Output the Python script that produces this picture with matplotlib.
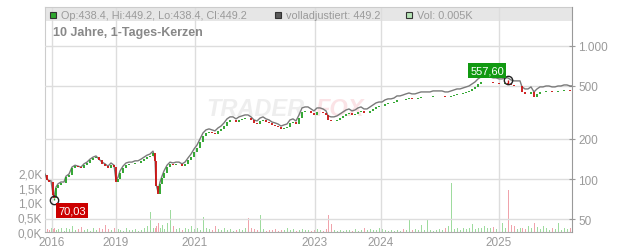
import matplotlib
matplotlib.use("Agg")
import matplotlib.pyplot as plt
from matplotlib.patches import Rectangle
from matplotlib.ticker import NullLocator
import numpy as np

plt.rcParams["font.family"] = ["Liberation Sans", "DejaVu Sans"]

# trading-session index (x)
session = [
    0, 10, 20, 30, 40, 45, 55, 65, 80, 95,
    105, 120, 135, 150, 165, 180, 195, 210, 225, 240,
    255, 270, 285, 300, 315, 330, 345, 355, 365, 375,
    390, 405, 420, 435, 450, 465, 480, 495, 510, 525,
    540, 550, 555, 565, 575, 585, 595, 610, 625, 640,
    655, 670, 685, 700, 715, 730, 745, 760, 775, 790,
    805, 820, 835, 850, 865, 880, 895, 910, 925, 940,
    955, 970, 985, 1000, 1015, 1030, 1045, 1060, 1075, 1090,
    1105, 1120, 1135, 1150, 1165, 1180, 1195, 1210, 1225, 1240,
    1255, 1270, 1285, 1300, 1315, 1330, 1345, 1360, 1375, 1390,
    1405, 1415, 1430, 1445, 1460, 1475, 1490, 1505, 1520, 1535,
    1550, 1565, 1580, 1595, 1610, 1625, 1640, 1655, 1670, 1685,
    1700, 1715, 1730, 1745, 1760, 1775, 1790, 1805, 1820, 1835,
    1850, 1865, 1880, 1895, 1910, 1925, 1940, 1955, 1970, 1985,
    2000, 2015, 2030, 2045, 2060, 2075, 2090, 2105, 2120, 2135,
    2150, 2165, 2180, 2195, 2210, 2225, 2240, 2255, 2270, 2285,
    2300, 2315, 2330, 2345, 2360, 2375, 2385, 2400, 2415, 2430,
    2445, 2460, 2475, 2490, 2505, 2520, 2535, 2550, 2565, 2580,
    2595, 2610, 2625, 2635,
]

# "volladjustiert" line
adjusted = [
    109, 100, 97, 97, 77, 73, 87, 92, 95, 95,
    105, 109, 123, 127, 125, 123, 130, 134, 141, 146,
    149, 141, 134, 130, 125, 132, 127, 98, 103, 115,
    125, 132, 134, 134, 137, 137, 141, 146, 151, 154,
    162, 141, 92, 80, 95, 105, 115, 127, 134, 132,
    134, 134, 130, 134, 144, 154, 168, 180, 200, 222,
    234, 238, 234, 230, 242, 250, 264, 283, 293, 293,
    283, 293, 298, 303, 303, 293, 278, 273, 287, 293,
    283, 278, 268, 264, 259, 250, 255, 259, 278, 283,
    273, 303, 342, 348, 348, 336, 325, 342, 342, 336,
    325, 298, 293, 293, 298, 308, 319, 330, 336, 325,
    330, 342, 348, 336, 336, 348, 360, 373, 379, 379,
    393, 400, 400, 406, 421, 421, 428, 436, 443, 436,
    436, 443, 451, 451, 451, 451, 459, 459, 459, 459,
    451, 451, 459, 467, 475, 475, 483, 492, 500, 518,
    536, 565, 585, 585, 585, 585, 575, 575, 565, 565,
    575, 575, 555, 546, 546, 546, 492, 475, 475, 492,
    451, 475, 492, 492, 500, 500, 492, 492, 500, 500,
    509, 509, 500, 500,
]

# daily closes (candles)
close = [
    107, 98, 95, 95, 76, 72, 85.5, 90, 93, 93,
    103, 107, 121, 125, 123, 121, 128, 132, 139, 144,
    146, 139, 129, 126, 121, 128, 123, 95, 99.5, 111,
    121, 128, 129, 129, 132, 132, 136, 141, 146, 149,
    156, 136, 89, 77, 92, 101, 111, 123, 129, 128,
    129, 129, 126, 129, 139, 146, 159, 171, 190, 211,
    222, 226, 222, 218, 230, 237, 251, 269, 278, 278,
    269, 278, 283, 288, 285, 278, 264, 259, 272, 278,
    269, 264, 254, 251, 246, 237, 242, 246, 264, 269,
    259, 288, 319, 325, 325, 313, 303, 319, 319, 313,
    303, 278, 273, 273, 278, 287, 298, 308, 313, 303,
    308, 319, 325, 313, 313, 325, 336, 348, 354, 354,
    367, 373, 373, 379, 393, 393, 392, 400, 406, 400,
    400, 406, 414, 414, 414, 414, 421, 421, 421, 421,
    414, 414, 421, 428, 436, 436, 443, 451, 459, 471,
    488, 514, 532, 532, 532, 532, 523, 523, 514, 514,
    523, 518, 505, 497, 497, 497, 448, 432, 432, 448,
    410, 432, 448, 448, 455, 455, 448, 448, 455, 455,
    463, 463, 455, 455,
]

# volume in thousands
volume_k = [
    0.15, 0.1, 0.08, 0.12, 0.1, 0.15, 0.08, 0.1, 0.12, 0.05,
    0.15, 0.1, 0.2, 0.08, 0.1, 0.18, 0.06, 0.1, 0.05, 0.12,
    0.08, 0.15, 0.1, 0.22, 0.1, 0.06, 0.12, 0.25, 0.1, 0.08,
    0.05, 0.12, 0.08, 0.06, 0.1, 0.05, 0.08, 0.12, 0.2, 0.68,
    0.15, 0.12, 0.2, 0.3, 0.15, 0.25, 0.1, 0.3, 0.75, 0.2,
    0.1, 0.15, 0.08, 0.12, 0.1, 0.2, 0.1, 0.15, 0.08, 0.5,
    0.12, 0.1, 0.08, 0.2, 0.1, 0.06, 0.12, 0.08, 0.1, 0.05,
    0.08, 0.1, 0.06, 0.12, 0.48, 0.15, 0.1, 0.08, 0.58, 0.1,
    0.05, 0.08, 0.06, 0.1, 0.05, 0.08, 0.06, 0.12, 0.08, 0.1,
    0.05, 0.08, 0.1, 0.06, 0.08, 0.05, 0.06, 0.1, 0.08, 0.05,
    0.1, 0.58, 0.28, 0.08, 0.05, 0.06, 0.05, 0.08, 0.06, 0.05,
    0.1, 0.05, 0.08, 0.15, 0.08, 0.1, 0.06, 0.08, 0.12, 0.1,
    0.08, 0.05, 0.06, 0.05, 0.08, 0.05, 0.1, 0.06, 0.4, 0.08,
    0.1, 0.08, 0.25, 0.08, 0.4, 0.06, 0.05, 0.08, 0.1, 0.06,
    0.12, 0.2, 1.66, 0.1, 0.15, 0.08, 0.12, 0.1, 0.15, 0.27,
    0.1, 0.15, 0.12, 0.2, 0.15, 0.12, 0.18, 0.1, 0.2, 0.3,
    0.15, 1.42, 0.25, 0.2, 0.1, 0.12, 0.15, 0.1, 0.2, 0.12,
    0.3, 0.18, 0.1, 0.2, 0.15, 0.08, 0.12, 0.1, 0.3, 0.08,
    0.12, 0.1, 0.15, 0.2,
]

year_pos = [35, 355, 750, 1350, 1680, 2270]
year_labels = ["2016", "2019", "2021", "2023", "2024", "2025"]
price_ticks = [50, 100, 200, 500, 1000]
price_labels = ["50", "100", "200", "500", "1.000"]
vol_ticks = [0, 0.5, 1.0, 1.5, 2.0]
vol_labels = ["0,0K", "0,5K", "1,0K", "1,5K", "2,0K"]

low_session, low_value, low_text = 45, 70.03, "70,03"
high_session, high_value, high_text = 2315, 557.60, "557,60"

header_items = [
    ("Op:438.4, Hi:449.2, Lo:438.4, Cl:449.2", "#2fa82f"),
    ("volladjustiert: 449.2", "#5a5a5a"),
    ("Vol: 0.005K", "#b5e3b5"),
]
title = "10 Jahre, 1-Tages-Kerzen"

assert len(session) == len(adjusted) == len(close) == len(volume_k)

W, H = 632, 253
GREY_TXT = "#9a9a9a"
GRID = "#dddddd"

fig = plt.figure(figsize=(W / 100, H / 100), dpi=100)
left, right, top, bottom = 45, 572, 8, 233
ax_vol = fig.add_axes([left / W, 1 - bottom / H, (right - left) / W, (bottom - top) / H])
ax = ax_vol.twinx()

x = np.array(session)
c = np.array(close, dtype=float)
o = np.concatenate([[c[0]], c[:-1]])
up = c >= o

# volume
ax_vol.bar(x, volume_k, width=5, color=np.where(up, "#9edb9e", "#f0a3ab"), zorder=1)
ax_vol.set_xlim(0, 2635)
ax_vol.set_ylim(0, 7.6)
ax_vol.set_yticks(vol_ticks, vol_labels)
ax_vol.set_xticks(year_pos, year_labels)
ax_vol.grid(axis="x", color=GRID, lw=1)
ax_vol.tick_params(axis="x", length=0, pad=3, labelsize=8.5, labelcolor=GREY_TXT)
ax_vol.tick_params(axis="y", length=0, pad=2, labelsize=8.5, labelcolor=GREY_TXT)
for s in ("top", "left"):
    ax_vol.spines[s].set_color("#cccccc")
ax_vol.spines["bottom"].set_color("#aaaaaa")
ax_vol.spines["right"].set_visible(False)

# header band
ax_vol.add_patch(Rectangle((0, 1 - 14 / 225), 1, 14 / 225, transform=ax_vol.transAxes,
                           facecolor="#e6e6e6", edgecolor="none", zorder=0.5))

# price
ax.set_yscale("log")
ax.set_ylim(40, 1960)
ax.set_yticks(price_ticks, price_labels)
ax.yaxis.set_minor_locator(NullLocator())
ax.grid(axis="y", color=GRID, lw=1)
ax.tick_params(axis="y", direction="inout", length=5, color="#999999", pad=2,
               labelsize=8.5, labelcolor=GREY_TXT)
for s in ("top", "left", "bottom"):
    ax.spines[s].set_visible(False)
ax.spines["right"].set_color("#999999")

ax.text(0.40, 0.55, "TRADER", transform=ax.transAxes, fontsize=17, fontweight="bold",
        fontstyle="italic", color="#eeeeee", ha="center", va="center", zorder=0.2)
ax.text(0.56, 0.55, "FOX", transform=ax.transAxes, fontsize=17, fontweight="bold",
        fontstyle="italic", color="#fbe3e6", ha="center", va="center", zorder=0.2)

ax.plot(x, adjusted, color="#7a7a7a", lw=1.0, zorder=2)
lo = np.minimum(o, c)
hi = np.maximum(o, c)
hi = np.where(hi - lo < lo * 0.006, lo * 1.006, hi)
ax.vlines(x, lo, hi, colors=np.where(up, "#22a022", "#cc1111"), lw=1.3, zorder=3)
ax.vlines([low_session], [low_value], [c[session.index(low_session)]], colors="#22a022", lw=1, zorder=3)
ax.vlines([high_session], [c[session.index(high_session)]], [high_value], colors="#cc1111", lw=1, zorder=3)

ax.plot([low_session, high_session], [low_value, high_value], "o", ms=6, mfc="none",
        mec="#222222", mew=1, zorder=4)
ax.annotate(low_text, (low_session, low_value), xytext=(4, -6), textcoords="offset pixels",
            ha="left", va="top", fontsize=8, color="white", zorder=5,
            bbox=dict(boxstyle="square,pad=0.2", fc="#cc0000", ec="none"))
ax.annotate(high_text, (high_session, high_value), xytext=(-4, 4), textcoords="offset pixels",
            ha="right", va="bottom", fontsize=8, color="white", zorder=5,
            bbox=dict(boxstyle="square,pad=0.2", fc="#119911", ec="none"))

# header legend
for (label, col), sx in zip(header_items, [50, 275, 406]):
    fig.patches.append(Rectangle((sx / W, 1 - 19 / H), 6 / W, 6 / H, transform=fig.transFigure,
                                 facecolor=col, edgecolor="#333333", lw=0.8))
    fig.text((sx + 11) / W, 1 - 16 / H, label, fontsize=7.8, color=GREY_TXT, va="center", ha="left")
fig.text(53 / W, 1 - 33 / H, title, fontsize=9, fontweight="bold", color="#888888",
         va="center", ha="left")

fig.savefig("out.png", dpi=100)
